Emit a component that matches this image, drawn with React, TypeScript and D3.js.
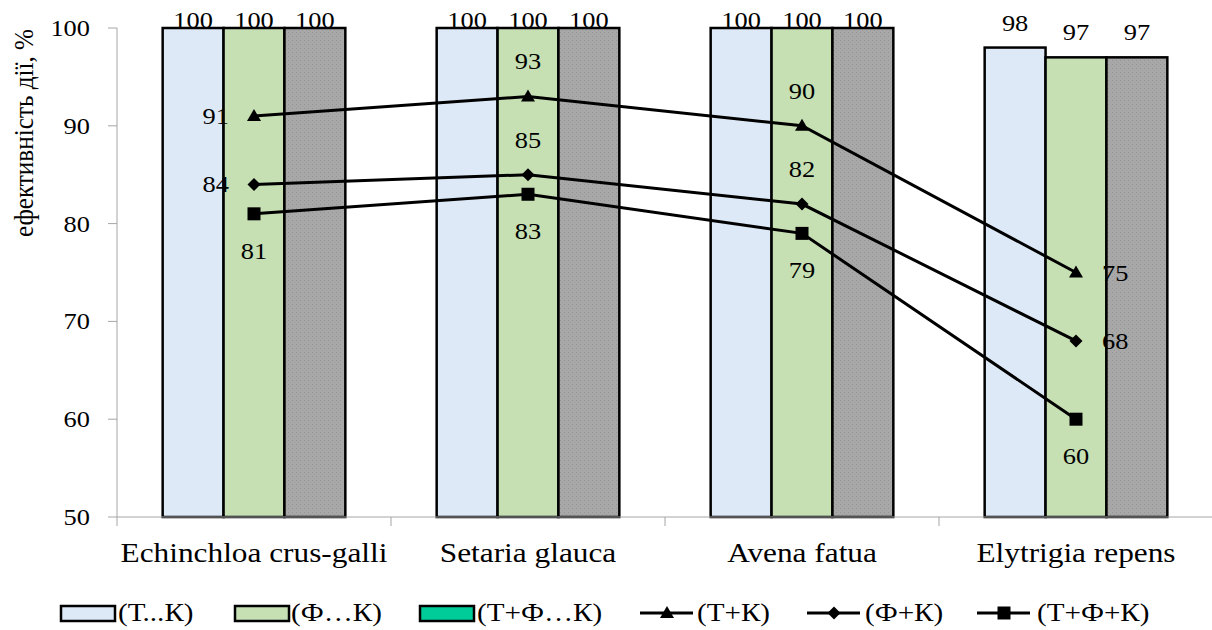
import React from "react";
import * as d3 from "d3";

const categories = ["Echinchloa crus-galli", "Setaria glauca", "Avena fatua", "Elytrigia repens"];
const barTK = [100, 100, 100, 98];
const barFK = [100, 100, 100, 97];
const barTFK = [100, 100, 100, 97];
const lineTK = [91, 93, 90, 75];
const lineFK = [84, 85, 82, 68];
const lineTFK = [81, 83, 79, 60];
const yTicks = [50, 60, 70, 80, 90, 100];
const barNames = ["(Т...К)", "(Ф…К)", "(Т+Ф…К)"];
const lineNames = ["(Т+К)", "(Ф+К)", "(Т+Ф+К)"];

const W = 1212;
const H = 630;
const FONT = "Liberation Serif, Times New Roman, Tinos, Times, serif";

const barSeries = [
  { name: barNames[0], values: barTK, fill: "#dde9f6", legendFill: "#dde9f6" },
  { name: barNames[1], values: barFK, fill: "#c6e0b4", legendFill: "#c6e0b4" },
  { name: barNames[2], values: barTFK, fill: "url(#grayDots)", legendFill: "#00cc99" },
];
const lineSeries = [
  { name: lineNames[0], values: lineTK, marker: "triangle", place: ["left", "above", "above", "right"] },
  { name: lineNames[1], values: lineFK, marker: "diamond", place: ["left", "above", "above", "right"] },
  { name: lineNames[2], values: lineTFK, marker: "square", place: ["below", "below", "below", "below"] },
];

function markerPath(type: string, x: number, y: number) {
  if (type === "triangle") return `M${x},${y - 7}L${x + 7},${y + 5}L${x - 7},${y + 5}Z`;
  if (type === "diamond") return `M${x},${y - 6.5}L${x + 6.5},${y}L${x},${y + 6.5}L${x - 6.5},${y}Z`;
  return `M${x - 6.5},${y - 6.5}h13v13h-13Z`;
}

function SText(props: { x: number; y: number; sx?: number; size: number; anchor?: string; children: any }) {
  const { x, y, sx = 1.1, size, anchor = "middle", children } = props;
  return (
    <text
      transform={`translate(${x},${y}) scale(${sx},1)`}
      textAnchor={anchor as any}
      style={{ fontFamily: FONT, fontSize: size }}
      fill="#000"
    >
      {children}
    </text>
  );
}

export default function App() {
  const x = d3.scaleBand<string>().domain(categories).range([117, 1213]).paddingInner(0).paddingOuter(0);
  const inner = d3
    .scaleBand<number>()
    .domain([0, 1, 2])
    .range([0, x.bandwidth()])
    .paddingInner(0)
    .paddingOuter(0.75);
  const y = d3.scaleLinear().domain([50, 100]).range([517, 28]);
  const cx = (i: number) => (x(categories[i]) as number) + x.bandwidth() / 2;
  const line = d3
    .line<number>()
    .x((_, i) => cx(i))
    .y((d) => y(d));

  const legendItems = [
    { kind: "rect", fill: barSeries[0].legendFill, x0: 61, tx: 118, label: barNames[0] },
    { kind: "rect", fill: barSeries[1].legendFill, x0: 235, tx: 291, label: barNames[1] },
    { kind: "rect", fill: barSeries[2].legendFill, x0: 420, tx: 477, label: barNames[2] },
    { kind: "triangle", x0: 640, tx: 697, label: lineNames[0] },
    { kind: "diamond", x0: 807, tx: 865, label: lineNames[1] },
    { kind: "square", x0: 977, tx: 1037, label: lineNames[2] },
  ];
  const ly = 613;

  return (
    <svg width={W} height={H} style={{ position: "absolute", left: 0, top: 0, background: "#fff" }}>
      <defs>
        <pattern id="grayDots" width="4" height="4" patternUnits="userSpaceOnUse">
          <rect width="4" height="4" fill="#a8a8a8" />
          <rect x="0" y="0" width="1" height="1" fill="#939393" />
          <rect x="2" y="2" width="1" height="1" fill="#9c9c9c" />
        </pattern>
      </defs>

      {/* y axis */}
      <line x1={117} x2={117} y1={y(50)} y2={y(100)} stroke="#a6a6a6" strokeWidth={1} />
      {yTicks.map((t) => (
        <g key={t}>
          <line x1={108} x2={117} y1={y(t)} y2={y(t)} stroke="#a6a6a6" strokeWidth={1} />
          <SText x={90} y={y(t) + 8} size={24} anchor="end">
            {t}
          </SText>
        </g>
      ))}

      {/* bars */}
      {barSeries.map((s, si) =>
        s.values.map((v, i) => {
          const bx = (x(categories[i]) as number) + (inner(si) as number);
          return (
            <rect
              key={`${si}-${i}`}
              x={bx}
              y={y(v)}
              width={inner.bandwidth()}
              height={y(50) - y(v)}
              fill={s.fill}
              stroke="#000"
              strokeWidth={2.5}
            />
          );
        })
      )}

      {/* x axis */}
      <line x1={117} x2={1213} y1={y(50)} y2={y(50)} stroke="#a6a6a6" strokeWidth={1} />
      {categories.map((c) => (
        <line
          key={c}
          x1={x(c) as number}
          x2={x(c) as number}
          y1={y(50)}
          y2={y(50) + 9}
          stroke="#a6a6a6"
          strokeWidth={1}
        />
      ))}
      {categories.map((c, i) => (
        <SText key={c} x={cx(i)} y={562} size={27} sx={1.16}>
          {c}
        </SText>
      ))}

      {/* bar labels */}
      {barSeries.map((s, si) =>
        s.values.map((v, i) => {
          const bx = (x(categories[i]) as number) + (inner(si) as number) + inner.bandwidth() / 2;
          return (
            <SText key={`bl-${si}-${i}`} x={bx} y={Math.max(y(v) - 17, 28)} size={24}>
              {v}
            </SText>
          );
        })
      )}

      {/* lines */}
      {lineSeries.map((s) => (
        <g key={s.name}>
          <path d={line(s.values) as string} fill="none" stroke="#000" strokeWidth={3} />
          {s.values.map((v, i) => (
            <path key={i} d={markerPath(s.marker, cx(i), y(v))} fill="#000" />
          ))}
          {s.values.map((v, i) => {
            const p = s.place[i];
            const px = cx(i);
            const py = y(v);
            if (p === "left")
              return (
                <SText key={`l${i}`} x={px - 25} y={py + 8} size={24} anchor="end">
                  {v}
                </SText>
              );
            if (p === "right")
              return (
                <SText key={`l${i}`} x={px + 26} y={py + 8} size={24} anchor="start">
                  {v}
                </SText>
              );
            if (p === "above")
              return (
                <SText key={`l${i}`} x={px} y={py - 27} size={24}>
                  {v}
                </SText>
              );
            return (
              <SText key={`l${i}`} x={px} y={py + 45} size={24}>
                {v}
              </SText>
            );
          })}
        </g>
      ))}

      {/* y title */}
      <text
        transform={`translate(33,133) rotate(-90) scale(0.9,1)`}
        textAnchor="middle"
        style={{ fontFamily: FONT, fontSize: 28 }}
        fill="#000"
      >
        ефективність дії, %
      </text>

      {/* legend */}
      {legendItems.map((it, k) => (
        <g key={k}>
          {it.kind === "rect" ? (
            <rect x={it.x0} y={ly - 7} width={54} height={15} fill={it.fill} stroke="#000" strokeWidth={2.5} />
          ) : (
            <g>
              <line x1={it.x0} x2={it.x0 + 53} y1={ly} y2={ly} stroke="#000" strokeWidth={3} />
              <path d={markerPath(it.kind, it.x0 + 27, ly)} fill="#000" />
            </g>
          )}
          <SText x={it.tx} y={ly + 8} size={26} sx={1.12} anchor="start">
            {it.label}
          </SText>
        </g>
      ))}
    </svg>
  );
}
